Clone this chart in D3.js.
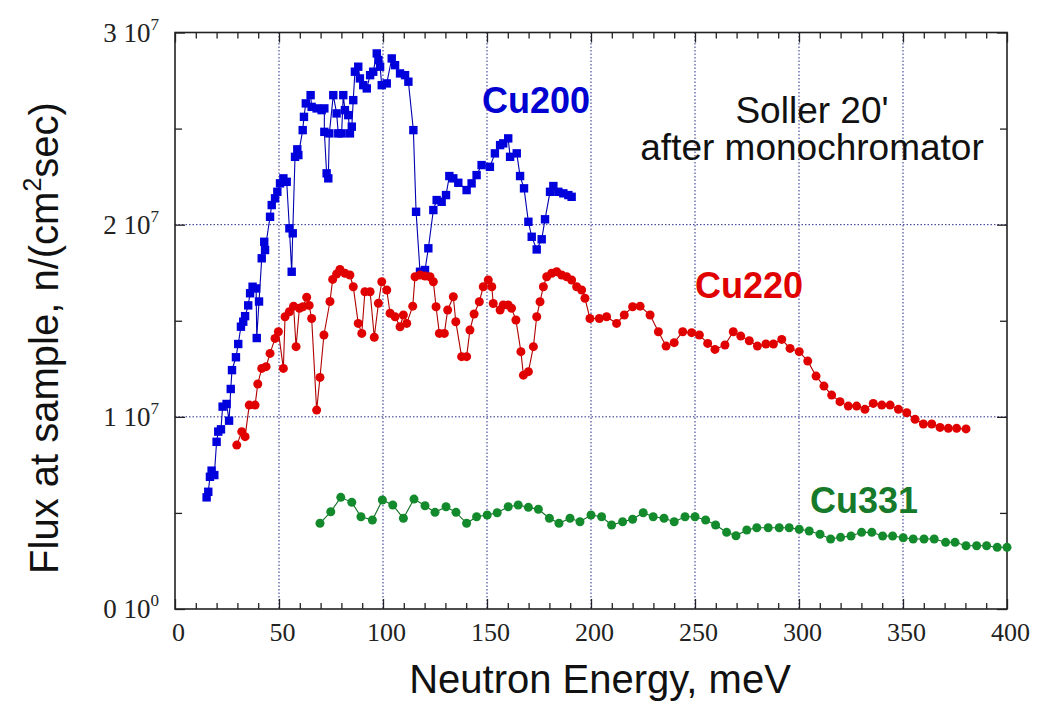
<!DOCTYPE html>
<html>
<head>
<meta charset="utf-8">
<script src="https://cdn.jsdelivr.net/npm/d3@7/dist/d3.min.js"></script>
<style>
  html, body { margin: 0; padding: 0; background: #fff; }
  svg { display: block; }
</style>
</head>
<body>
<svg id="chart" width="1039" height="704"></svg>
<script>
// Neutron flux at the sample position vs. energy for three copper monochromator reflections
// Flux values in units of 1e7 n/(cm^2 sec)

const energy200 = [15.2,16.0,16.8,17.6,18.9,20.0,20.8,22.1,22.9,24.8,26.0,26.8,27.4,29.3,30.4,31.7,32.8,33.7,35.2,36.1,37.3,39.0,39.3,40.4,
  41.7,42.9,43.3,45.7,46.5,48.1,49.2,50.5,52.1,53.7,55.0,56.1,56.6,57.7,58.8,59.3,61.4,62.0,62.9,65.2,65.7,68.1,70.5,71.8,71.8,72.9,73.7,74.2,
  76.1,77.7,78.5,80.1,80.9,81.7,83.3,84.1,85.0,85.7,86.5,88.1,88.9,90.5,92.2,93.8,95.3,97.0,97.8,98.6,99.4,101.8,104.2,105.8,108.2,110.6,112.2,
  114.6,115.9,117.8,120.2,121.8,124.2,125.8,128.2,130.3,131.9,133.8,136.2,140.2,142.6,145.0,147.4,151.4,153.8,156.3,157.8,160.2,161.1,164.3,
  165.9,167.8,169.9,171.5,173.9,176.3,177.9,180.3,181.9,184.3,186.7,189.1,190.7];
const flux200 = [0.581,0.610,0.688,0.720,0.697,0.870,0.923,0.935,1.053,1.067,0.980,1.145,1.243,1.310,1.379,1.469,1.495,1.524,1.580,1.643,1.677,1.668,1.410,1.600,
  1.825,1.911,1.868,2.041,2.102,2.137,2.171,2.215,2.241,2.223,1.981,1.755,1.955,2.353,2.392,2.362,2.492,2.561,2.631,2.674,2.613,2.605,2.596,2.605,2.483,2.267,2.241,2.475,
  2.674,2.579,2.475,2.475,2.674,2.596,2.570,2.475,2.510,2.648,2.796,2.822,2.761,2.726,2.709,2.778,2.796,2.891,2.857,2.822,2.726,2.735,2.865,2.830,2.787,2.778,2.744,
  2.492,2.067,1.755,1.764,1.877,2.076,2.128,2.119,2.154,2.253,2.241,2.218,2.180,2.215,2.258,2.310,2.301,2.371,2.414,2.423,2.449,2.353,2.371,
  2.253,2.189,2.015,1.937,1.871,1.924,2.028,2.171,2.201,2.171,2.163,2.154,2.145];

const energy220 = [29.7,32.1,33.7,35.7,38.5,39.8,41.7,43.8,45.7,48.1,49.7,52.1,52.9,55.0,57.0,58.2,59.8,61.5,63.3,64.5,65.7,68.1,69.7,71.6,
  74.5,75.8,77.7,79.3,81.7,84.1,85.7,88.1,89.8,91.3,93.8,95.8,97.8,99.4,101.8,103.4,105.8,108.2,109.8,111.4,114.3,115.4,117.8,120.2,122.6,124.2,
  125.5,127.1,129.5,131.1,133.8,135.0,137.8,140.2,141.8,143.8,146.3,148.2,150.6,152.3,153.0,156.3,157.8,160.2,161.8,163.9,166.3,167.5,169.9,
  172.3,173.9,175.5,177.1,178.7,181.1,183.5,185.9,188.3,190.7,193.1,195.5,197.1,199.5,204.0,207.5,212.3,216.0,220.0,223.6,228.4,232.4,236.1,
  240.0,244.1,248.4,252.1,256.1,259.6,264.4,268.4,272.0,276.1,280.0,284.1,287.7,291.7,295.7,300.1,304.2,308.2,312.0,315.7,319.7,323.7,327.7,
  331.7,335.7,339.8,343.8,347.8,351.8,355.8,359.8,363.8,367.8,371.8,375.8,380.3];
const flux220 = [0.853,0.923,0.897,1.061,1.061,1.171,1.252,1.261,1.330,1.408,1.443,1.252,1.521,1.547,1.576,1.365,1.565,1.573,1.622,1.580,1.512,1.035,1.205,1.426,
  1.600,1.715,1.743,1.767,1.747,1.738,1.677,1.486,1.434,1.651,1.651,1.414,1.591,1.703,1.660,1.539,1.521,1.469,1.530,1.486,1.576,1.729,1.738,1.733,1.729,1.703,
  1.573,1.434,1.434,1.556,1.625,1.495,1.313,1.313,1.452,1.535,1.599,1.677,1.712,1.677,1.590,1.556,1.582,1.582,1.565,1.504,1.339,1.217,1.235,
  1.365,1.521,1.599,1.677,1.729,1.747,1.755,1.738,1.729,1.712,1.677,1.660,1.617,1.512,1.512,1.521,1.486,1.530,1.573,1.576,1.530,1.443,1.368,
  1.386,1.443,1.438,1.426,1.382,1.351,1.374,1.443,1.420,1.396,1.368,1.379,1.379,1.403,1.356,1.339,1.290,1.212,1.160,1.113,1.079,1.056,1.056,
  1.039,1.070,1.061,1.061,1.039,1.021,0.987,0.963,0.963,0.945,0.940,0.940,0.937];

const energy331 = [69.7,74.9,79.7,85.0,89.4,94.9,99.7,104.7,109.8,114.9,120.2,125.0,130.3,135.1,140.2,145.0,150.1,154.9,160.2,165.0,169.9,174.7,
  180.0,184.6,189.9,194.7,200.0,205.1,209.9,215.2,220.0,225.1,229.9,235.1,240.0,245.2,250.0,255.1,259.9,265.2,269.7,274.9,279.7,285.2,290.5,
  295.3,300.1,304.9,310.1,315.2,320.0,325.0,330.1,335.0,340.2,345.0,350.1,354.9,360.1,365.0,370.5,375.0,380.3,385.4,390.2,395.3,400.0];
const flux331 = [0.446,0.506,0.581,0.555,0.480,0.463,0.567,0.541,0.472,0.572,0.537,0.503,0.532,0.503,0.446,0.480,0.489,0.501,0.532,0.541,0.529,0.519,
  0.472,0.446,0.472,0.454,0.489,0.480,0.437,0.454,0.467,0.501,0.480,0.472,0.454,0.480,0.480,0.463,0.437,0.399,0.381,0.411,0.423,0.423,0.423,
  0.423,0.415,0.406,0.389,0.364,0.373,0.380,0.399,0.399,0.380,0.380,0.371,0.364,0.364,0.364,0.347,0.347,0.329,0.329,0.329,0.321,0.321];

const FLUX_UNIT = 1e7;

const xTicks = [0, 50, 100, 150, 200, 250, 300, 350, 400];
const yTicks = [0, 1e7, 2e7, 3e7];
const yTickMantissa = ["0", "1", "2", "3"];
const yTickExponent = ["0", "7", "7", "7"];

const series = [
  { name: "Cu200", energy: energy200, flux: flux200, shape: "square", fill: "#0000dd", line: "#0000b0" },
  { name: "Cu220", energy: energy220, flux: flux220, shape: "circle", fill: "#e00000", line: "#b00000" },
  { name: "Cu331", energy: energy331, flux: flux331, shape: "circle", fill: "#138a2c", line: "#0f6e22" }
];

const svg = d3.select("#chart");
const L = 175, R = 1007, T = 32.5, B = 609;

const x = d3.scaleLinear().domain([0, 400]).range([L, R]);
const y = d3.scaleLinear().domain([0, 3e7]).range([B, T]);

// grid
const grid = svg.append("g").attr("stroke", "#2a2a8a").attr("stroke-width", 1)
  .attr("stroke-dasharray", "1.5,2");
grid.selectAll("line.gx").data(xTicks.filter(d => d > 0 && d < 400)).join("line")
  .attr("x1", d => x(d)).attr("x2", d => x(d)).attr("y1", T).attr("y2", B);
grid.selectAll("line.gy").data(yTicks.filter(d => d > 0 && d < 3e7)).join("line")
  .attr("x1", L).attr("x2", R).attr("y1", d => y(d)).attr("y2", d => y(d));

// axes with inward ticks
const axisStyle = g => {
  g.select(".domain").remove();
  g.selectAll(".tick line").attr("stroke", "#222").attr("stroke-width", 1.3);
};
const minorX = d3.range(0, 401, 10).filter(d => d % 50 !== 0);
const minorY = d3.range(5e6, 3e7, 1e7);

svg.append("g").attr("transform", `translate(0,${B})`)
  .call(d3.axisBottom(x).tickValues(xTicks).tickSizeInner(-10).tickSizeOuter(0).tickPadding(14).tickFormat(d3.format("d")))
  .call(axisStyle)
  .call(g => g.selectAll(".tick text").attr("font-family", "Liberation Serif, Times New Roman, serif")
    .attr("font-size", 26).attr("fill", "#222").attr("dx", 3));
svg.append("g").attr("transform", `translate(0,${B})`)
  .call(d3.axisBottom(x).tickValues(minorX).tickSizeInner(-6).tickSizeOuter(0).tickFormat(""))
  .call(axisStyle);
svg.append("g").attr("transform", `translate(0,${T})`)
  .call(d3.axisTop(x).tickValues(xTicks).tickSizeInner(-10).tickSizeOuter(0).tickFormat(""))
  .call(axisStyle);
svg.append("g").attr("transform", `translate(0,${T})`)
  .call(d3.axisTop(x).tickValues(minorX).tickSizeInner(-6).tickSizeOuter(0).tickFormat(""))
  .call(axisStyle);
svg.append("g").attr("transform", `translate(${L},0)`)
  .call(d3.axisLeft(y).tickValues(yTicks).tickSizeInner(-10).tickSizeOuter(0).tickFormat(""))
  .call(axisStyle);
svg.append("g").attr("transform", `translate(${L},0)`)
  .call(d3.axisLeft(y).tickValues(minorY).tickSizeInner(-7).tickSizeOuter(0).tickFormat(""))
  .call(axisStyle);
svg.append("g").attr("transform", `translate(${R},0)`)
  .call(d3.axisRight(y).tickValues(yTicks).tickSizeInner(-10).tickSizeOuter(0).tickFormat(""))
  .call(axisStyle);
svg.append("g").attr("transform", `translate(${R},0)`)
  .call(d3.axisRight(y).tickValues(minorY).tickSizeInner(-7).tickSizeOuter(0).tickFormat(""))
  .call(axisStyle);

// frame
svg.append("rect").attr("x", L).attr("y", T).attr("width", R - L).attr("height", B - T)
  .attr("fill", "none").attr("stroke", "#222").attr("stroke-width", 1.6);

// y tick labels like "2 10^7"
const yl = svg.append("g").attr("font-family", "Liberation Serif, Times New Roman, serif").attr("fill", "#222");
yTicks.forEach((v, i) => {
  const t = yl.append("text").attr("x", 159).attr("y", y(v) + 9).attr("text-anchor", "end").attr("font-size", 27);
  t.append("tspan").text(yTickMantissa[i] + " 10");
  t.append("tspan").attr("dy", -12).attr("font-size", 17).text(yTickExponent[i]);
});

// series lines and markers
const line = d3.line().x(d => x(d[0])).y(d => y(d[1] * FLUX_UNIT));
series.forEach(s => {
  const pts = s.energy.map((e, i) => [e, s.flux[i]]);
  svg.append("path").datum(pts).attr("d", line)
    .attr("fill", "none").attr("stroke", s.line).attr("stroke-width", 1.1);
  const g = svg.append("g").attr("fill", s.fill);
  if (s.shape === "square") {
    g.selectAll("rect").data(pts).join("rect")
      .attr("x", d => x(d[0]) - 4.2).attr("y", d => y(d[1] * FLUX_UNIT) - 4.2)
      .attr("width", 8.4).attr("height", 8.4);
  } else {
    g.selectAll("circle").data(pts).join("circle")
      .attr("cx", d => x(d[0])).attr("cy", d => y(d[1] * FLUX_UNIT)).attr("r", 4.5);
  }
});

// series labels
const sans = "Liberation Sans, Arial, Helvetica, sans-serif";
const labels = [
  { text: "Cu200", x: 482, y: 113, color: "#0000d0" },
  { text: "Cu220", x: 695, y: 298, color: "#e00000" },
  { text: "Cu331", x: 810, y: 513, color: "#167a2a" }
];
svg.append("g").selectAll("text").data(labels).join("text")
  .attr("x", d => d.x).attr("y", d => d.y).attr("fill", d => d.color)
  .attr("font-family", sans).attr("font-weight", "bold").attr("font-size", 36)
  .text(d => d.text);

// note
const note = svg.append("text").attr("font-family", sans).attr("font-size", 37)
  .attr("fill", "#111").attr("text-anchor", "middle");
note.append("tspan").attr("x", 812).attr("y", 123).text("Soller 20'");
note.append("tspan").attr("x", 812).attr("y", 160).text("after monochromator");

// axis titles
svg.append("text").attr("x", 600).attr("y", 693).attr("text-anchor", "middle")
  .attr("font-family", sans).attr("font-size", 40).attr("fill", "#111")
  .text("Neutron Energy, meV");

const yt = svg.append("text").attr("transform", "translate(58,338) rotate(-90)")
  .attr("text-anchor", "middle").attr("font-family", sans).attr("font-size", 40).attr("fill", "#111");
yt.append("tspan").text("Flux at sample, n/(cm");
yt.append("tspan").attr("dy", -17).attr("font-size", 25).text("2");
yt.append("tspan").attr("dy", 17).text("sec)");
</script>
</body>
</html>
